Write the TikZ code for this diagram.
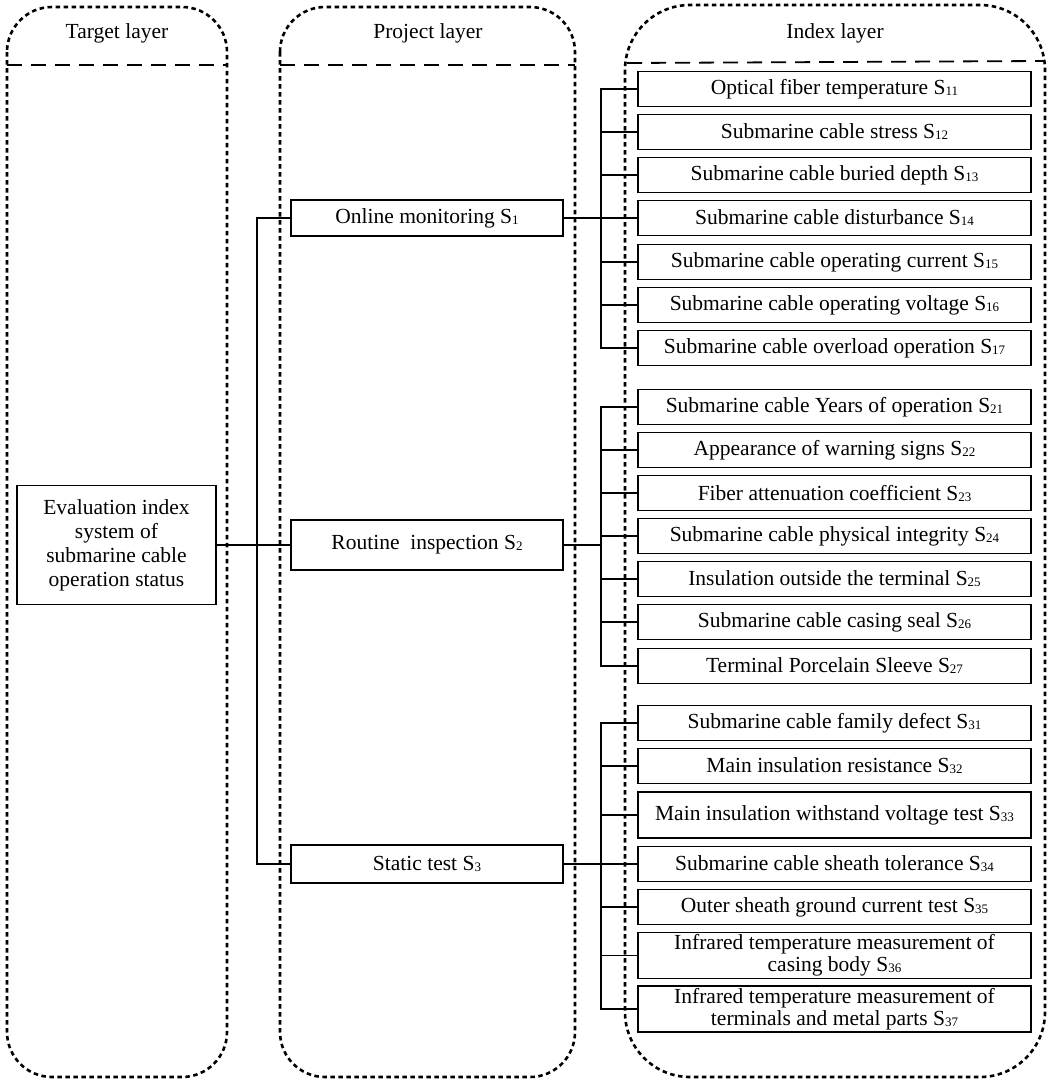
\documentclass[tikz,border=0pt]{standalone}
\usepackage{fontspec}
\setmainfont{Liberation Serif}
\newcommand{\sbs}[1]{\raisebox{-1pt}{\fontsize{13}{13}\selectfont #1}}
\begin{document}
\begin{tikzpicture}[x=1pt,y=-1pt,
  cont/.style={line width=2.6pt, dash pattern=on 4.5pt off 3.5pt, rounded corners=#1},
  cont/.default=45pt,
  sep/.style={line width=1.8pt, dash pattern=on 15pt off 9pt},
  basebox/.style={draw, line width=1.8pt, align=center, inner sep=0pt, font=\fontsize{21.5}{24}\selectfont},
  ibox/.style={basebox, minimum width=393pt, minimum height=35pt},
  ibox2/.style={basebox, minimum width=393pt, minimum height=46pt, font=\fontsize{21.5}{22}\selectfont},
  pbox/.style={basebox, minimum width=272pt, minimum height=36pt},
  head/.style={font=\fontsize{21.5}{24}\selectfont},
  conn/.style={line width=1.8pt}
]
\useasboundingbox (0,0) rectangle (1052,1080);
% containers
\draw[cont] (7,7) rectangle (227,1077);
\draw[cont] (280,7) rectangle (575,1077);
\draw[cont=65pt] (625,5) rectangle (1045,1077);
\draw[sep] (7,65) -- (227,65);
\draw[sep] (280,65) -- (575,65);
\draw[sep] (627,63) -- (1043,61);
\node[head] (h1) at (117,33) {Target layer};
\node[head] (h2) at (428,33) {Project layer};
\node[head] (h3) at (835,33) {Index layer};
% target
\node[basebox, minimum width=199pt, minimum height=119pt] (ev) at (116.5,545) {Evaluation index\\system of\\submarine cable\\operation status};
% project
\node[pbox] (on) at (427,218) {Online monitoring S\sbs{1}};
\node[pbox, minimum height=50pt] (ri) at (427,545) {Routine\ \ inspection S\sbs{2}};
\node[pbox, minimum height=38pt] (st) at (427,864) {Static test S\sbs{3}};
% index group 1
\node[ibox] (s11) at (834.5,89) {Optical fiber temperature S\sbs{11}};
\node[ibox] (s12) at (834.5,132) {Submarine cable stress S\sbs{12}};
\node[ibox] (s13) at (834.5,175) {Submarine cable buried depth S\sbs{13}};
\node[ibox] (s14) at (834.5,218) {Submarine cable disturbance S\sbs{14}};
\node[ibox] (s15) at (834.5,262) {Submarine cable operating current S\sbs{15}};
\node[ibox] (s16) at (834.5,305) {Submarine cable operating voltage S\sbs{16}};
\node[ibox] (s17) at (834.5,348) {Submarine cable overload operation S\sbs{17}};
% group 2
\node[ibox] (s21) at (834.5,407) {Submarine cable Years of operation S\sbs{21}};
\node[ibox] (s22) at (834.5,450) {Appearance of warning signs S\sbs{22}};
\node[ibox] (s23) at (834.5,493) {Fiber attenuation coefficient S\sbs{23}};
\node[ibox] (s24) at (834.5,536) {Submarine cable physical integrity S\sbs{24}};
\node[ibox] (s25) at (834.5,579) {Insulation outside the terminal S\sbs{25}};
\node[ibox] (s26) at (834.5,622) {Submarine cable casing seal S\sbs{26}};
\node[ibox] (s27) at (834.5,666) {Terminal Porcelain Sleeve S\sbs{27}};
% group 3
\node[ibox] (s31) at (834.5,723) {Submarine cable family defect S\sbs{31}};
\node[ibox] (s32) at (834.5,766) {Main insulation resistance S\sbs{32}};
\node[ibox2] (s33) at (834.5,815) {Main insulation withstand voltage test S\sbs{33}};
\node[ibox] (s34) at (834.5,864) {Submarine cable sheath tolerance S\sbs{34}};
\node[ibox] (s35) at (834.5,907) {Outer sheath ground current test S\sbs{35}};
\node[ibox2] (s36) at (834.5,955.5) {Infrared temperature measurement of\\casing body S\sbs{36}};
\node[ibox2] (s37) at (834.5,1009) {Infrared temperature measurement of\\terminals and metal parts S\sbs{37}};
% connectors
\coordinate (tr) at (257,0);
\coordinate (b) at (601,0);
\draw[conn] (on.west) -- (on.west -| tr) -- (st.west -| tr) -- (st.west);
\draw[conn] (ev.east) -- (ri.west);
\draw[conn] (on.east) -- (s14.west);
\draw[conn] (ri.east) -- (ri.east -| b);
\draw[conn] (st.east) -- (s34.west);
\draw[conn] (s11.west) -- (s11.west -| b) -- (s17.west -| b) -- (s17.west);
\draw[conn] (s21.west) -- (s21.west -| b) -- (s27.west -| b) -- (s27.west);
\draw[conn] (s31.west) -- (s31.west -| b) -- (s37.west -| b) -- (s37.west);
\foreach \n in {s12,s13,s15,s16,s22,s23,s24,s25,s26,s32,s33,s35,s36}
  \draw[conn] (\n.west) -- (\n.west -| b);
\end{tikzpicture}
\end{document}
